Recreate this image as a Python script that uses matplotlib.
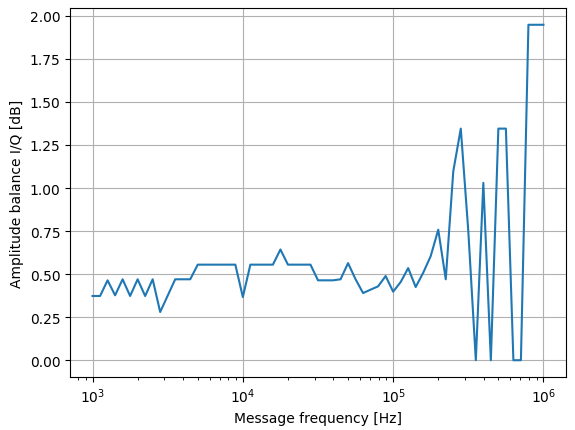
import numpy as np
import matplotlib
matplotlib.use("Agg")
import matplotlib.pyplot as plt

# frequencies: 61 points log-spaced, 1 kHz to 1 MHz
freq_exp_start = 3
freq_exp_stop = 6
n_points = 61
freqs = np.logspace(freq_exp_start, freq_exp_stop, n_points)

balance_db = [
    0.373, 0.373, 0.464, 0.377, 0.470, 0.373, 0.470, 0.373, 0.470, 0.280,
    0.375, 0.470, 0.470, 0.470, 0.555, 0.555, 0.555, 0.555, 0.555, 0.555,
    0.367, 0.555, 0.555, 0.555, 0.555, 0.643, 0.555, 0.555, 0.555, 0.555,
    0.464, 0.464, 0.464, 0.470, 0.564, 0.470, 0.390, 0.410, 0.429, 0.489,
    0.398, 0.454, 0.535, 0.425, 0.508, 0.605, 0.758, 0.470, 1.097, 1.345,
    0.750, 0.000, 1.030, 0.000, 1.345, 1.345, 0.000, 0.000, 1.948, 1.948,
    1.948,
]

fig = plt.figure(figsize=(5.75, 4.31), dpi=100)
ax = fig.add_axes([70/575, (431-378)/431, 496/575, 369/431])
ax.semilogx(freqs, balance_db)
ax.grid(True)
ax.set_xlabel("Message frequency [Hz]")
ax.set_ylabel("Amplitude balance I/Q [dB]")
fig.savefig("out.png", dpi=100)
